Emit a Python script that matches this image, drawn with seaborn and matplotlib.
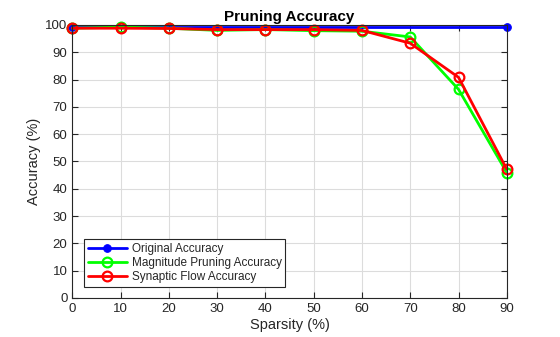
import matplotlib
matplotlib.use("Agg")
import matplotlib.pyplot as plt
import seaborn as sns
import pandas as pd

sparsity = [0, 10, 20, 30, 40, 50, 60, 70, 80, 90]
original_x = [0, 90]
original = [99.1, 99.1]
magnitude = [98.8, 99.2, 98.8, 98.0, 98.3, 97.9, 97.7, 95.6, 76.4, 45.9]
synflow = [98.8, 98.8, 98.7, 98.3, 98.3, 98.3, 98.0, 93.3, 80.8, 47.1]
series_names = ["Original Accuracy", "Magnitude Pruning Accuracy", "Synaptic Flow Accuracy"]
x_ticks = [0, 10, 20, 30, 40, 50, 60, 70, 80, 90]
y_ticks = [0, 10, 20, 30, 40, 50, 60, 70, 80, 90, 100]

sns.set_style("white")
plt.rcParams["font.family"] = ["Liberation Sans", "DejaVu Sans"]

fig = plt.figure(figsize=(5.6, 3.37), dpi=100)
ax = fig.add_axes([0.129, 0.116, 0.776, 0.81])

df_o = pd.DataFrame({"x": original_x, "y": original})
df = pd.DataFrame({"x": sparsity, "b": magnitude, "c": synflow})

sns.lineplot(data=df_o, x="x", y="y", ax=ax, color="#0000ff", lw=2, marker="o",
             markersize=5.5, markerfacecolor="#0000ff", markeredgecolor="#0000ff",
             label=series_names[0], clip_on=False)
sns.lineplot(data=df, x="x", y="b", ax=ax, color="#00ff00", lw=2, marker="o",
             markersize=7, markerfacecolor="none", markeredgecolor="#00ff00",
             markeredgewidth=1.6, label=series_names[1], clip_on=False)
sns.lineplot(data=df, x="x", y="c", ax=ax, color="#ff0000", lw=2, marker="o",
             markersize=7, markerfacecolor="none", markeredgecolor="#ff0000",
             markeredgewidth=1.6, label=series_names[2], clip_on=False)

ax.set_xlim(0, 90)
ax.set_ylim(0, 100)
ax.set_xticks(x_ticks)
ax.set_yticks(y_ticks)
ax.grid(True, color="#dcdcdc", lw=0.8)
ax.set_axisbelow(True)
for s in ax.spines.values():
    s.set_color("#262626")
    s.set_linewidth(0.8)
    s.set_visible(True)
ax.tick_params(direction="in", length=4, width=0.8, colors="#262626",
               labelsize=9.5, top=True, right=True, bottom=True, left=True)
ax.set_xlabel("Sparsity (%)", fontsize=10.5, color="#262626", labelpad=2)
ax.set_ylabel("Accuracy (%)", fontsize=10.5, color="#262626", labelpad=3)
ax.set_title("Pruning Accuracy", fontsize=11, fontweight="bold", color="#000000", pad=3)

leg = ax.legend(loc="lower left", bbox_to_anchor=(0.028, 0.04), fontsize=8.5,
                frameon=True, fancybox=False, edgecolor="#262626", framealpha=1,
                borderpad=0.3, labelspacing=0.2, handlelength=3.3, handletextpad=0.4,
                borderaxespad=0)
leg.get_frame().set_linewidth(0.8)

fig.savefig("out.png", dpi=100)
